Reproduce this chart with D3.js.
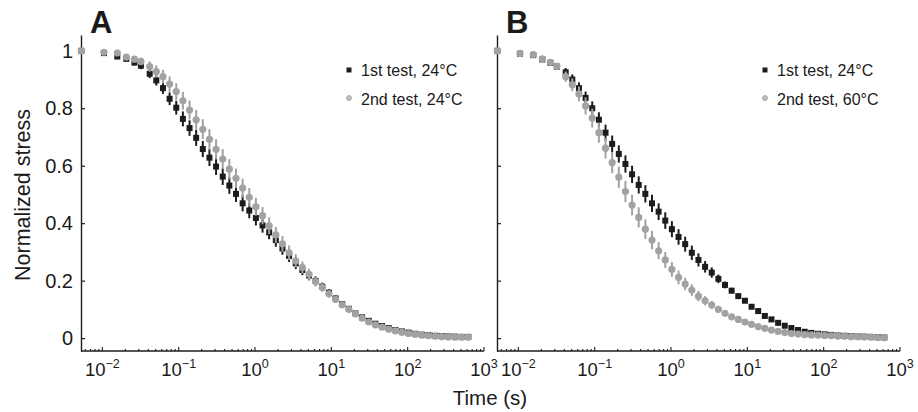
<!DOCTYPE html>
<html>
<head>
<meta charset="utf-8">
<script src="https://cdn.jsdelivr.net/npm/d3@7"></script>
<style>
  body { margin: 0; background: #fff; }
  text { font-family: "Liberation Sans", Arial, sans-serif; fill: #1a1a1a; }
</style>
</head>
<body>
<script>
// time points (s), shared by both tests
const times = [0.0053, 0.0105, 0.0157, 0.0206, 0.0263, 0.032,
  0.0417, 0.0509, 0.0622, 0.0760, 0.0929, 0.1135, 0.1387, 0.1694, 0.2070, 0.2529,
  0.3089, 0.3774, 0.4611, 0.5633, 0.6882, 0.8408, 1.027, 1.255, 1.533, 1.873,
  2.288, 2.796, 3.416, 4.173, 5.098, 6.228, 7.609, 9.296, 11.36, 13.87,
  16.95, 20.71, 25.30, 30.91, 37.76, 46.13, 56.36, 68.85, 84.12, 102.8,
  125.6, 153.4, 187.4, 229.0, 279.7, 341.7, 417.5, 510.0, 623.1];

// panel A: 1st test 24°C vs 2nd test 24°C
const aFirst = [1.0, 0.992, 0.98, 0.972, 0.959, 0.948,
  0.92, 0.897, 0.87, 0.833, 0.802, 0.763, 0.731, 0.697, 0.658, 0.628,
  0.597, 0.562, 0.531, 0.502, 0.469, 0.444, 0.418, 0.392, 0.368, 0.341,
  0.312, 0.286, 0.26, 0.237, 0.218, 0.199, 0.179, 0.158, 0.138, 0.118,
  0.102, 0.086, 0.072, 0.06, 0.05, 0.042, 0.035, 0.028, 0.023, 0.019,
  0.015, 0.012, 0.01, 0.008, 0.007, 0.006, 0.005, 0.004, 0.004];
const aFirstErr = [0, 0.005, 0.006, 0.008, 0.01, 0.012,
  0.015, 0.018, 0.02, 0.022, 0.024, 0.026, 0.027, 0.028, 0.028, 0.029,
  0.029, 0.029, 0.029, 0.028, 0.028, 0.027, 0.026, 0.025, 0.024, 0.023,
  0.022, 0.021, 0.02, 0.018, 0.017, 0.016, 0.014, 0.012, 0.01, 0.009,
  0.008, 0.007, 0.006, 0.005, 0.004, 0.004, 0.003, 0.003, 0.002, 0.002,
  0.002, 0.002, 0.002, 0.002, 0.002, 0.002, 0.002, 0.002, 0.002];
const aSecond = [1.0, 0.995, 0.992, 0.978, 0.971, 0.963,
  0.945, 0.928, 0.91, 0.884, 0.858, 0.826, 0.794, 0.76, 0.727, 0.692,
  0.657, 0.623, 0.588, 0.556, 0.522, 0.49, 0.457, 0.426, 0.391, 0.359,
  0.328, 0.297, 0.269, 0.246, 0.222, 0.197, 0.176, 0.154, 0.135, 0.116,
  0.1, 0.084, 0.069, 0.056, 0.046, 0.038, 0.031, 0.025, 0.02, 0.016,
  0.013, 0.01, 0.008, 0.006, 0.005, 0.004, 0.003, 0.003, 0.003];
const aSecondErr = [0, 0.005, 0.007, 0.009, 0.011, 0.013,
  0.018, 0.021, 0.024, 0.027, 0.029, 0.031, 0.033, 0.034, 0.035, 0.035,
  0.035, 0.035, 0.035, 0.034, 0.033, 0.032, 0.031, 0.03, 0.029, 0.028,
  0.027, 0.025, 0.023, 0.021, 0.019, 0.017, 0.015, 0.013, 0.011, 0.009,
  0.008, 0.007, 0.006, 0.005, 0.004, 0.004, 0.003, 0.003, 0.002, 0.002,
  0.002, 0.002, 0.002, 0.002, 0.002, 0.002, 0.002, 0.002, 0.002];

// panel B: 1st test 24°C vs 2nd test 60°C
const bFirst = [1.0, 0.99, 0.985, 0.97, 0.958, 0.945,
  0.925, 0.9, 0.87, 0.836, 0.8, 0.76, 0.715, 0.676, 0.641, 0.606,
  0.57, 0.533, 0.502, 0.469, 0.44, 0.409, 0.379, 0.352, 0.327, 0.297,
  0.272, 0.248, 0.228, 0.206, 0.185, 0.165, 0.146, 0.13, 0.109, 0.094,
  0.077, 0.065, 0.053, 0.043, 0.035, 0.028, 0.022, 0.018, 0.015, 0.013,
  0.011, 0.009, 0.008, 0.007, 0.006, 0.005, 0.004, 0.003, 0.002];
const bFirstErr = [0, 0.004, 0.005, 0.008, 0.01, 0.012,
  0.015, 0.018, 0.02, 0.022, 0.024, 0.026, 0.028, 0.029, 0.03, 0.03,
  0.03, 0.03, 0.03, 0.03, 0.029, 0.029, 0.028, 0.027, 0.026, 0.025,
  0.023, 0.02, 0.018, 0.015, 0.012, 0.01, 0.008, 0.006, 0.005, 0.004,
  0.004, 0.003, 0.003, 0.003, 0.002, 0.002, 0.002, 0.002, 0.002, 0.002,
  0.002, 0.002, 0.002, 0.002, 0.002, 0.002, 0.002, 0.002, 0.002];
const bSecond = [1.0, 0.991, 0.987, 0.972, 0.96, 0.946,
  0.91, 0.882, 0.85, 0.808, 0.766, 0.715, 0.661, 0.611, 0.56, 0.51,
  0.463, 0.42, 0.379, 0.341, 0.304, 0.272, 0.239, 0.211, 0.188, 0.167,
  0.146, 0.13, 0.115, 0.1, 0.086, 0.074, 0.065, 0.056, 0.048, 0.04,
  0.034, 0.028, 0.023, 0.019, 0.016, 0.014, 0.012, 0.011, 0.01, 0.009,
  0.008, 0.007, 0.006, 0.005, 0.005, 0.004, 0.003, 0.002, 0.001];
const bSecondErr = [0, 0.004, 0.005, 0.008, 0.01, 0.012,
  0.018, 0.022, 0.026, 0.03, 0.033, 0.035, 0.036, 0.037, 0.037, 0.037,
  0.036, 0.035, 0.034, 0.032, 0.03, 0.028, 0.026, 0.024, 0.022, 0.02,
  0.018, 0.016, 0.014, 0.012, 0.01, 0.008, 0.007, 0.006, 0.005, 0.004,
  0.004, 0.003, 0.003, 0.002, 0.002, 0.002, 0.002, 0.002, 0.002, 0.002,
  0.002, 0.002, 0.002, 0.002, 0.002, 0.002, 0.002, 0.002, 0.002];

const yTicks = [0, 0.2, 0.4, 0.6, 0.8, 1];
const xTickExps = [-2, -1, 0, 1, 2, 3];
const legendA = ["1st test, 24°C", "2nd test, 24°C"];
const legendB = ["1st test, 24°C", "2nd test, 60°C"];

const black = "#1c1c1c", grey = "#a2a2a2";

const svg = d3.select("body").append("svg")
  .attr("width", 918)
  .attr("height", 412);

const y = d3.scaleLinear().domain([-0.045, 1.055]).range([351, 35]);

const panels = [
  { letter: "A", left: 81, first: aFirst, firstErr: aFirstErr, second: aSecond, secondErr: aSecondErr, legend: legendA, showY: true },
  { letter: "B", left: 497, first: bFirst, firstErr: bFirstErr, second: bSecond, secondErr: bSecondErr, legend: legendB, showY: false }
];

panels.forEach(p => {
  const x = d3.scaleLog().domain([0.00525, 1000]).range([p.left, p.left + 403]);
  const g = svg.append("g");

  // y axis, ticks pointing inward
  const yAxis = d3.axisLeft(y).tickValues(yTicks).tickSizeInner(-4).tickSizeOuter(0).tickPadding(8)
    .tickFormat(d => p.showY ? d3.format("~g")(d) : "");
  const ya = g.append("g").attr("transform", `translate(${p.left},0)`).call(yAxis);
  ya.select(".domain").attr("stroke", black).attr("stroke-width", 1.4);
  ya.selectAll(".tick line").attr("stroke", black).attr("stroke-width", 1.2);
  ya.selectAll(".tick text").attr("font-size", 20).attr("font-family", null).attr("fill", black);

  // x axis line + log ticks
  g.append("line")
    .attr("x1", p.left).attr("x2", p.left + 403)
    .attr("y1", 351).attr("y2", 351)
    .attr("stroke", black).attr("stroke-width", 1.4);

  const ticks = x.ticks().filter(t => t >= 0.00525 && t <= 1000);
  g.selectAll(".xt").data(ticks).enter().append("line")
    .attr("x1", d => x(d)).attr("x2", d => x(d))
    .attr("y1", 351)
    .attr("y2", d => Number.isInteger(Math.round(Math.log10(d) * 1000) / 1000) ? 347 : 349)
    .attr("stroke", black).attr("stroke-width", 1.1);

  const lbl = g.selectAll(".xl").data(xTickExps).enter().append("text")
    .attr("x", d => x(Math.pow(10, d)))
    .attr("y", 376)
    .attr("text-anchor", "middle")
    .attr("font-size", 18.5);
  lbl.append("tspan").text("10");
  lbl.append("tspan").attr("dy", -8).attr("font-size", 12.5)
    .text(d => d < 0 ? "\u2212" + Math.abs(d) : String(d));

  // series: error bars then markers; grey drawn on top
  const series = [
    { vals: p.first, err: p.firstErr, color: black, shape: "square" },
    { vals: p.second, err: p.secondErr, color: grey, shape: "circle" }
  ];
  series.forEach(s => {
    const pts = times.map((t, i) => ({ t: t, v: s.vals[i], e: s.err[i] || 0 }));
    g.append("g").selectAll("line").data(pts).enter().append("line")
      .attr("x1", d => x(d.t)).attr("x2", d => x(d.t))
      .attr("y1", d => y(d.v - d.e)).attr("y2", d => y(d.v + d.e))
      .attr("stroke", s.color).attr("stroke-width", 2);
    if (s.shape === "square") {
      g.append("g").selectAll("rect").data(pts).enter().append("rect")
        .attr("x", d => x(d.t) - 3).attr("y", d => y(d.v) - 3)
        .attr("width", 6).attr("height", 6)
        .attr("fill", s.color);
    } else {
      g.append("g").selectAll("circle").data(pts).enter().append("circle")
        .attr("cx", d => x(d.t)).attr("cy", d => y(d.v))
        .attr("r", 3.6)
        .attr("fill", s.color);
    }
  });

  // legend
  const lx = p.left + 268;
  g.append("rect").attr("x", lx - 2.5).attr("y", 67.5).attr("width", 5).attr("height", 5).attr("fill", black);
  g.append("circle").attr("cx", lx).attr("cy", 98).attr("r", 2.6).attr("fill", "#bdbdbd").attr("stroke", "#9a9a9a").attr("stroke-width", 0.6);
  g.selectAll(".lg").data(p.legend).enter().append("text")
    .attr("x", lx + 12)
    .attr("y", (d, i) => 75.5 + i * 29)
    .attr("font-size", 16)
    .text(d => d);

  // panel letter
  g.append("text")
    .attr("x", p.left + 9).attr("y", 33)
    .attr("font-size", 31).attr("font-weight", "bold")
    .text(p.letter);
});

svg.append("text")
  .attr("transform", "translate(30,195) rotate(-90)")
  .attr("text-anchor", "middle")
  .attr("font-size", 21.5)
  .text("Normalized stress");

svg.append("text")
  .attr("x", 490).attr("y", 405)
  .attr("text-anchor", "middle")
  .attr("font-size", 20.5)
  .text("Time (s)");
</script>
</body>
</html>
